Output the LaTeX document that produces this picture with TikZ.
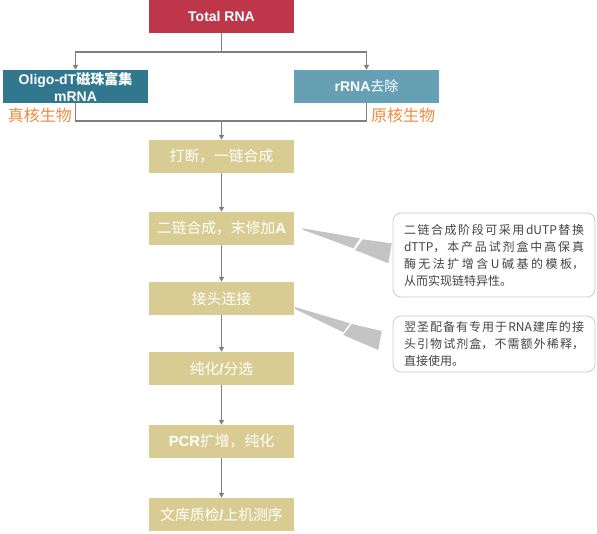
\documentclass[tikz,border=0pt]{standalone}
\usepackage{fontspec}
\usepackage{xcolor}
\usepackage{tikz}
\usetikzlibrary{arrows.meta}
\setmainfont{Noto Sans CJK SC}
\newfontfamily\latfont{Liberation Sans}
\newcommand{\en}[1]{{\latfont\bfseries #1}}
\XeTeXlinebreaklocale "zh"
\XeTeXlinebreakskip=0pt plus 4pt
\definecolor{totalred}{HTML}{BE364A}
\definecolor{mrnablue}{HTML}{31788F}
\definecolor{rrnablue}{HTML}{65A0B5}
\definecolor{stepgold}{HTML}{D9CC93}
\definecolor{tagorange}{HTML}{F08A3E}
\definecolor{linegray}{HTML}{7F7F7F}
\definecolor{wedgegray}{HTML}{C4C4C4}
\definecolor{notegray}{HTML}{CCCCCC}
\definecolor{notetext}{HTML}{444444}

\begin{document}
\begin{tikzpicture}[x=1pt,y=-1pt,
    box/.style={minimum width=145pt,minimum height=33pt,inner sep=0pt,text=white,
        font=\fontsize{14}{17}\selectfont,align=center},
    stepbox/.style={box,fill=stepgold,font=\fontsize{14.8}{17}\selectfont},
    tag/.style={text=tagorange,font=\fontsize{16}{18}\selectfont,inner sep=0pt},
    wire/.style={draw=linegray,line width=1.2pt},
    link/.style={wire,-{Triangle[length=5pt,width=5pt]}},
    note/.style={draw=notegray,fill=white,rounded corners=8pt,line width=0.8pt,
        minimum width=202pt,text width=180pt,align=justify,text=notetext,
        font=\fontsize{12}{17}\selectfont}]
    \useasboundingbox (0,0) rectangle (597,534);

    \node[box,fill=totalred] (total) at (221.5,16.5) {\en{Total RNA}};
    \node[box,fill=mrnablue] (mrna) at (75.5,86.5) {\en{Oligo-dT}\textbf{磁珠富集}\\\en{mRNA}};
    \node[box,fill=rrnablue] (rrna) at (366.5,86.5) {\en{rRNA}去除};
    \node[tag] (euk) at (40,115) {真核生物};
    \node[tag] (prok) at (403,115.5) {原核生物};

    \foreach \i/\y/\txt in {1/156.5/{打断，一链合成}, 2/228.5/{二链合成，末修加\en{A}},
        3/298.5/{接头连接}, 4/368.5/{纯化\en{/}分选}, 5/441.5/{\en{PCR}扩增，纯化},
        6/514.5/{文库质检\en{/}上机测序}} {
        \node[stepbox] (s\i) at (221.5,\y) {\txt};
    }

    \coordinate (split) at (221.5,52);
    \coordinate (merge) at (221.5,121);
    \draw[wire] (total.south) -- (split);
    \draw[link] (split) -| (mrna.north);
    \draw[link] (split) -| (rrna.north);
    \draw[wire] (mrna.south) |- (merge) -| (rrna.south);
    \draw[link] (merge) -- (s1.north);
    \foreach \i in {1,...,5} {
        \pgfmathsetmacro\j{int(\i+1)}
        \draw[link] (s\i) -- (s\j);
    }

    % callouts
    \fill[wedgegray] (302.7,228.3) -- (360,238.3) -- (353.3,248.3) -- (302.7,229.7) -- cycle;
    \fill[wedgegray] (362.7,239.3) -- (391.7,243.3) -- (388.3,263.3) -- (355,250) -- cycle;
    \fill[wedgegray] (295,307) -- (350,323.3) -- (343.3,332.3) -- (295,309) -- cycle;
    \fill[wedgegray] (351.7,324) -- (381.7,331) -- (378.3,350) -- (343.3,335) -- cycle;

    \node[note,minimum height=84pt] (dutp) at (494,255) {二链合成阶段可采用dUTP替换\linebreak
        dTTP，本产品试剂盒中高保真\linebreak 酶无法扩增含U碱基的模板，\linebreak 从而实现链特异性。};
    \node[note,minimum height=56pt] (adapter) at (494,344) {翌圣配备有专用于RNA建库的接\linebreak
        头引物试剂盒，不需额外稀释，\linebreak 直接使用。};
\end{tikzpicture}
\end{document}
